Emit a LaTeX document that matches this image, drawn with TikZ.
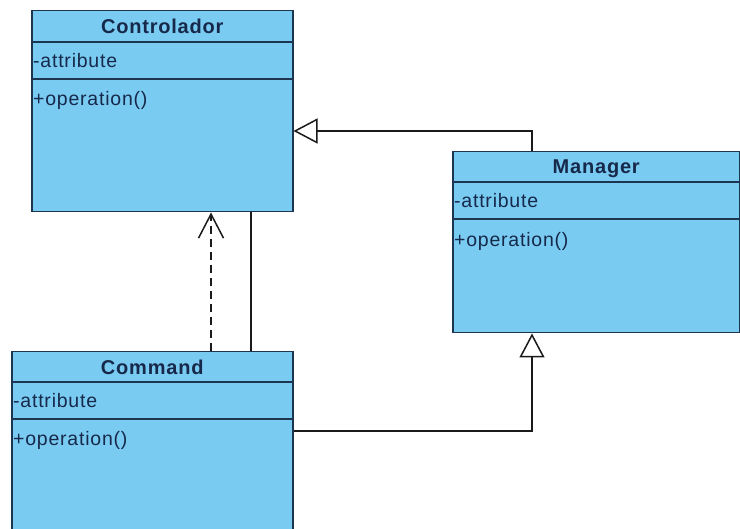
\documentclass[tikz,border=0pt]{standalone}
\usepackage{fontspec}
\setmainfont{Liberation Sans}
\newfontfamily\umlfont[LetterSpace=4]{Liberation Sans}
\newfontfamily\umltitle[LetterSpace=4]{Liberation Sans}
\usetikzlibrary{arrows.meta,calc}
\definecolor{classfill}{HTML}{7ACBF2}
\definecolor{classline}{HTML}{1E3552}
\definecolor{classtext}{HTML}{16294A}
\definecolor{linkline}{HTML}{1A1A1A}
\tikzset{
  classbox/.style={draw=classline, fill=classfill, line width=1.5pt, inner sep=0pt,
    anchor=north west, rectangle},
  compart/.style={draw=classline, line width=1.5pt},
  title/.style={anchor=base, inner sep=0pt, text=classtext, font=\umltitle\fontsize{20}{22}\selectfont\bfseries},
  member/.style={anchor=base west, inner sep=0pt, text=classtext, font=\umlfont\fontsize{19.5}{22}\selectfont},
  link/.style={draw=linkline, line width=1.5pt},
  generalization/.style={link, -{Triangle[open, length=24pt, width=25pt, fill=white]}},
  dependency/.style={link, dash pattern=on 8pt off 5pt, -{Straight Barb[length=24pt, width=25pt]}},
}
\begin{document}
\begin{tikzpicture}[x=1pt, y=-1pt]
\useasboundingbox (0,0) rectangle (740,529);
\clip (0,0) rectangle (740,529);
\fill[white] (0,0) rectangle (740,529);

% Controlador class
\node[classbox, minimum width=261pt, minimum height=201pt] (ctrl) at (31,10) {};
\draw[compart] ($(ctrl.north west)+(0,32)$) -- ($(ctrl.north east)+(0,32)$);
\draw[compart] ($(ctrl.north west)+(0,69)$) -- ($(ctrl.north east)+(0,69)$);
\node[title] (ctrlname) at ($(ctrl.north)+(0,24)$) {Controlador};
\node[member] (ctrlattr) at ($(ctrl.north west)+(2,58)$) {-attribute};
\node[member] (ctrlop) at ($(ctrl.north west)+(2,96)$) {+operation()};

% Manager class
\node[classbox, minimum width=287pt, minimum height=181pt] (mgr) at (452,151) {};
\draw[compart] ($(mgr.north west)+(0,31)$) -- ($(mgr.north east)+(0,31)$);
\draw[compart] ($(mgr.north west)+(0,68)$) -- ($(mgr.north east)+(0,68)$);
\node[title] (mgrname) at ($(mgr.north)+(0,23)$) {Manager};
\node[member] (mgrattr) at ($(mgr.north west)+(2,57)$) {-attribute};
\node[member] (mgrop) at ($(mgr.north west)+(2,96)$) {+operation()};

% Command class (runs past the lower edge)
\node[classbox, minimum width=281pt, minimum height=200pt] (cmd) at (11,351) {};
\draw[compart] ($(cmd.north west)+(0,31)$) -- ($(cmd.north east)+(0,31)$);
\draw[compart] ($(cmd.north west)+(0,68)$) -- ($(cmd.north east)+(0,68)$);
\node[title] (cmdname) at ($(cmd.north)+(0,24)$) {Command};
\node[member] (cmdattr) at ($(cmd.north west)+(2,57)$) {-attribute};
\node[member] (cmdop) at ($(cmd.north west)+(2,95)$) {+operation()};

% Connectors
\coordinate (mgrtop) at ($(mgr.north west)+(80,0)$);
\coordinate (ctrlin) at ($(ctrl.north east)+(0,121)$);
\draw[generalization] (mgrtop) |- (ctrlin);

\coordinate (cmdout) at ($(cmd.north east)+(0,80)$);
\coordinate (mgrbot) at ($(mgr.south west)+(80,0)$);
\draw[generalization] (cmdout) -| (mgrbot);

\coordinate (depfoot) at ($(cmd.north west)+(200,0)$);
\draw[dependency] (depfoot) -- (depfoot |- ctrl.south);

\coordinate (assocfoot) at ($(cmd.north west)+(240,0)$);
\draw[link] (assocfoot) -- (assocfoot |- ctrl.south);
\end{tikzpicture}
\end{document}
